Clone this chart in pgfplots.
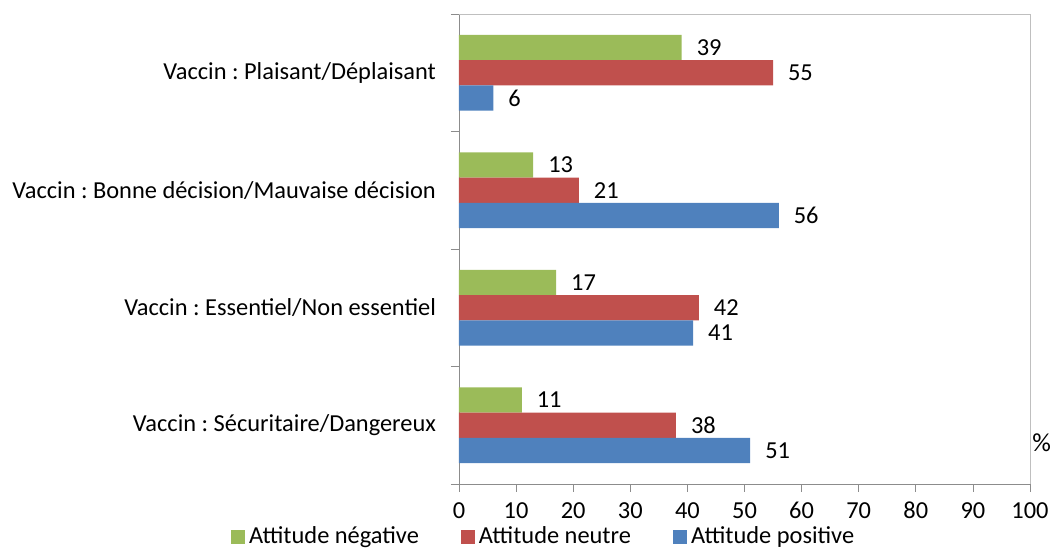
\documentclass[border=0pt]{standalone}
\usepackage{pgfplots}
\pgfplotsset{compat=1.18}
\usepackage{fontspec}
\setmainfont{Carlito}
\frenchspacing

\definecolor{neg}{HTML}{9BBB59}
\definecolor{neu}{HTML}{C0504D}
\definecolor{pos}{HTML}{4F81BD}
\newcommand\fs{\fontsize{12.2}{14}\selectfont}
\pgfplotsset{sq/.style={legend image code/.code={\fill[##1,draw=none] (0pt,-3.5pt) rectangle (7pt,3.5pt);}}}

\begin{document}
\begin{tikzpicture}
\begin{axis}[
    scale only axis, width=285.5pt, height=235pt,
    xbar, bar width=0.215,
    xmin=0, xmax=100, ymin=0.5, ymax=4.5,
    axis x line*=bottom, axis y line*=left,
    axis line style={draw=gray!90},
    xtick={0,10,...,100},
    ytick={0.5,1.5,...,4.5}, yticklabels={},
    tick style={gray!90, thin}, tick align=outside, major tick length=4pt,
    extra y ticks={1,2,3,4},
    extra y tick labels={Vaccin : Sécuritaire/Dangereux, Vaccin : Essentiel/Non essentiel, Vaccin : Bonne décision/Mauvaise décision, Vaccin : Plaisant/Déplaisant},
    extra y tick style={major tick length=0pt, yticklabel style={xshift=-8pt}},
    ticklabel style={font=\fs},
    xticklabel style={yshift=-4pt, inner sep=1pt, text height=8pt, text depth=0pt},
    /pgf/number format/assume math mode=true,
    nodes near coords,
    every node near coord/.append style={anchor=west, xshift=4pt, font=\fs, black},
    legend style={at={(0.15,-0.112)}, anchor=center, legend columns=3, draw=none, fill=none,
        inner sep=0pt, font=\fs, /tikz/every even column/.append style={column sep=19pt}},
    clip=false
]
% Attitude negative
\addplot[fill=neg, draw=none, sq, bar shift=0.215] coordinates {(11,1) (17,2) (13,3) (39,4)};
% Attitude neutre
\addplot[fill=neu, draw=none, sq, bar shift=0] coordinates {(38,1) (42,2) (21,3) (55,4)};
% Attitude positive
\addplot[fill=pos, draw=none, sq, bar shift=-0.215] coordinates {(51,1) (41,2) (56,3) (6,4)};
\legend{Attitude négative, Attitude neutre, Attitude positive}

\draw[gray!50] (rel axis cs:0,1) -- (rel axis cs:1,1) -- (rel axis cs:1,0);
\node[anchor=west, font=\fontsize{13}{15}\selectfont, inner sep=1pt] at (rel axis cs:1,0.087) {\%};
\coordinate (bl) at (rel axis cs:0,0);
\coordinate (tr) at (rel axis cs:1,1);
\end{axis}
\pgfresetboundingbox
\path[use as bounding box] ([xshift=-229.5pt,yshift=-32.5pt]bl) rectangle ([xshift=12pt,yshift=7pt]tr);
\end{tikzpicture}
\end{document}
